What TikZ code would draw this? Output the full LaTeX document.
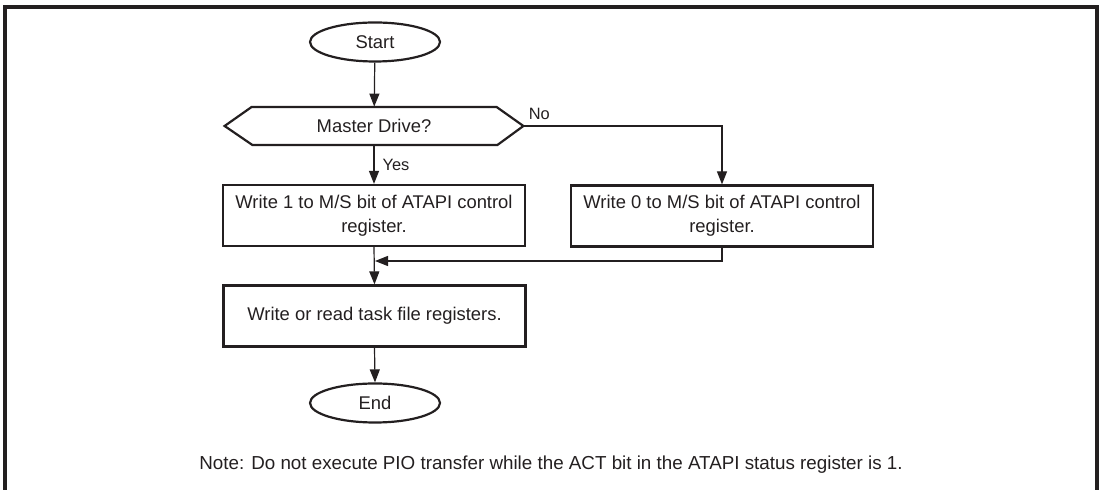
\documentclass[tikz,border=0pt]{standalone}
\usepackage{fontspec}
\setmainfont{Liberation Sans}
\usetikzlibrary{arrows.meta,shapes.geometric}
\definecolor{ink}{HTML}{231F20}
\tikzset{
  px/.style={x=0.5pt,y=-0.5pt},
  txt/.style={font=\fontsize{9.2}{12.2}\selectfont, text=ink, align=center, inner sep=0pt},
  term/.style={txt, ellipse, draw=ink, line width=1.1pt, minimum width=65pt, minimum height=19.5pt},
  proc/.style={txt, rectangle, draw=ink, line width=1.1pt, minimum width=151pt, minimum height=30.5pt},
  decbox/.style={txt, rectangle, minimum width=149pt, minimum height=19pt},
  conn/.style={draw=ink, line width=0.6pt},
  arr/.style={conn, -{Triangle[length=6.5pt,width=5pt]}},
  lbl/.style={font=\fontsize{8.2}{10}\selectfont, text=ink, inner sep=0pt},
  notetxt/.style={font=\fontsize{9.4}{12}\selectfont, text=ink, inner sep=0pt}
}
\begin{document}
\begin{tikzpicture}[px]
\useasboundingbox (0,0) rectangle (1102,490);
% frame (open at the bottom)
\draw[line width=1.6pt, ink] (5,490) -- (5,7) -- (1097,7) -- (1097,490);

\node[term] (start) at (375,42) {Start};
\node[decbox] (dec) at (374,126) {Master Drive?};
\draw[draw=ink, line width=1.1pt] (dec.west) -- ++(27,-19) -- ++(245,0) -- (dec.east) -- ++(-26,19) -- ++(-245,0) -- cycle;
\node[proc] (p1) at (374,215.5) {Write 1 to M/S bit of ATAPI control\\register.};
\node[proc] (p0) at (722,216) {Write 0 to M/S bit of ATAPI control\\register.};
\node[proc] (p2) at (374.5,316) {Write or read task file registers.};
\node[term] (end) at (375,403) {End};
\node[notetxt] (note) at (551,465) {Note: Do not execute PIO transfer while the ACT bit in the ATAPI status register is 1.};

\draw[arr] (start) -- (dec);
\draw[arr] (dec.south) -- node[lbl, anchor=west, xshift=4pt] (yes) {Yes} (p1.north);
\draw[arr] (dec.east) -| (p0.north);
\node[lbl, anchor=south west] (no) at ([xshift=2.5pt,yshift=3pt]dec.east) {No};
\coordinate (merge) at (375,261);
\draw[arr] (p0.south) |- (merge);
\draw[arr] (p1.south) -- (p2.north);
\draw[arr] (p2.south) -- (end.north);
\end{tikzpicture}
\end{document}
